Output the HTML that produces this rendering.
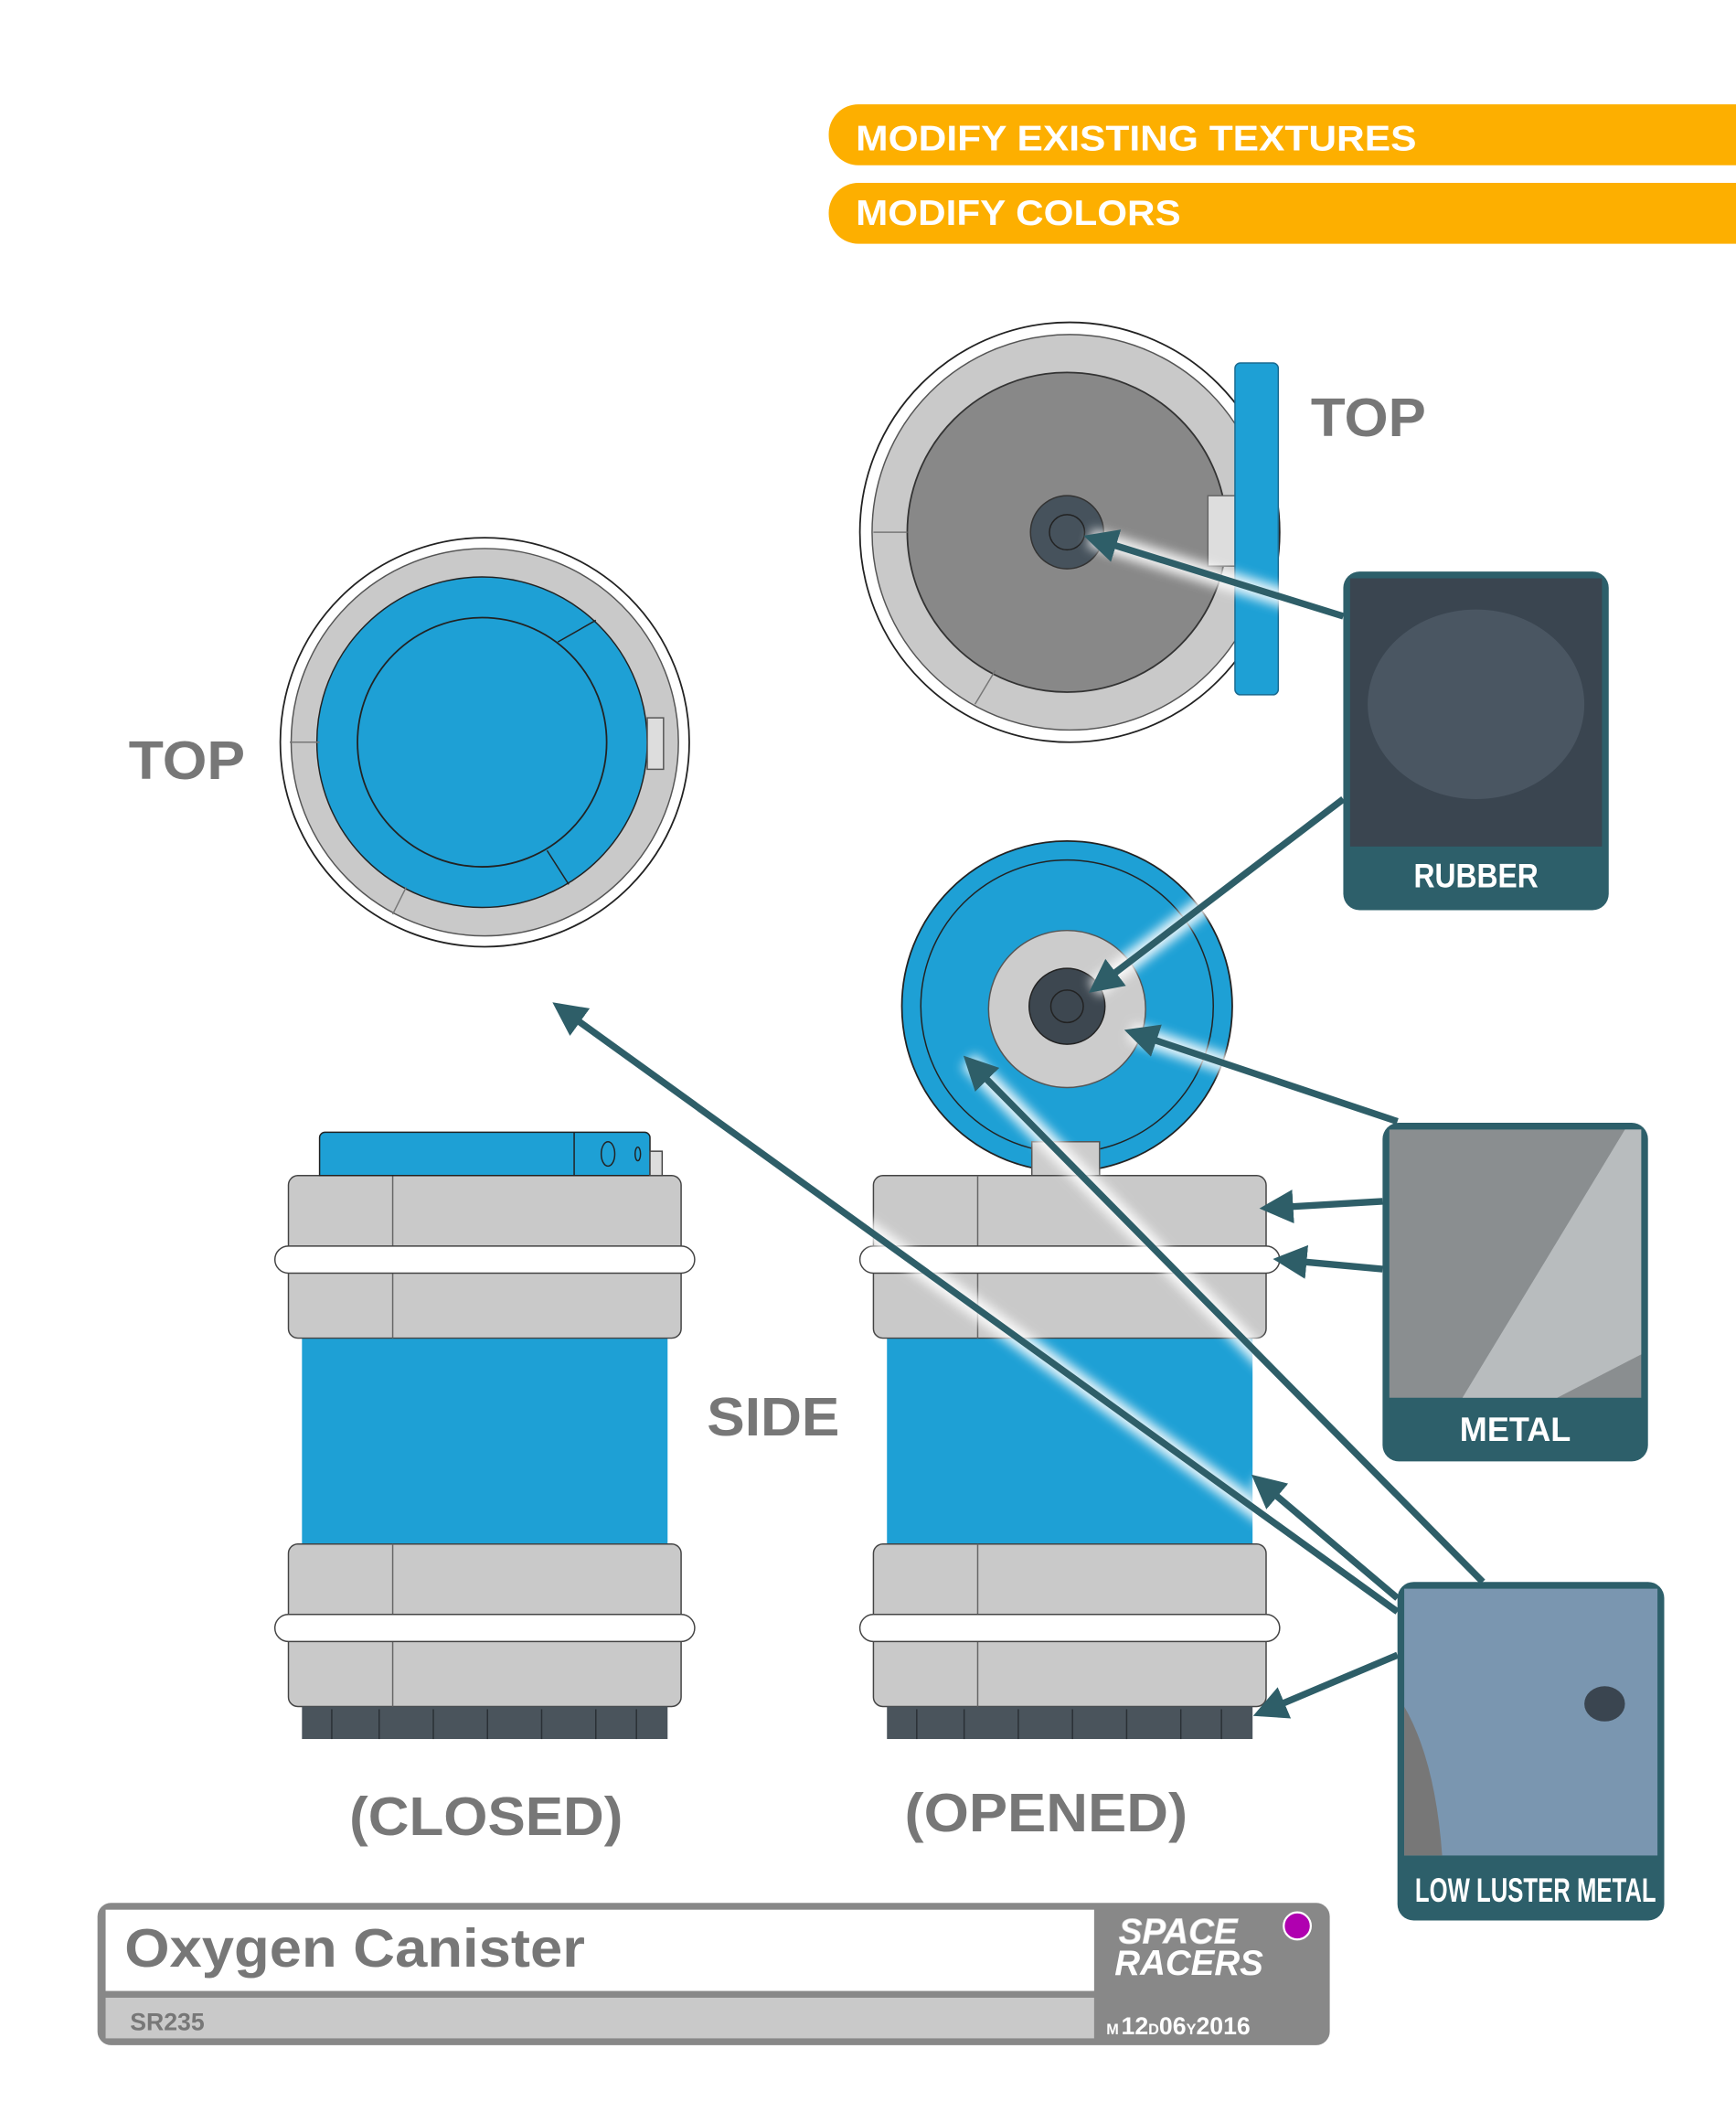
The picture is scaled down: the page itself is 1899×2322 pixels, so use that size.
<!DOCTYPE html>
<html><head><style>html,body{margin:0;padding:0;background:#fff}svg{display:block}</style></head>
<body>
<svg width="1899" height="2322" viewBox="0 0 1282 1567.5" preserveAspectRatio="none" xmlns="http://www.w3.org/2000/svg" font-family="Liberation Sans, sans-serif">
<defs>
<marker id="ah" viewBox="0 0 10 10" refX="8" refY="5" markerWidth="5" markerHeight="5" orient="auto"><path d="M0,0 L10,5 L0,10 z" fill="#2e5e68"/></marker>
<filter id="gl"><feGaussianBlur stdDeviation="4"/></filter>
</defs>
<rect x="612" y="77" width="700" height="45" rx="22" fill="#fdaf00"/>
<rect x="612" y="135" width="700" height="45" rx="22" fill="#fdaf00"/>
<text x="632" y="111" font-size="26" font-weight="bold" fill="#fff" textLength="414" lengthAdjust="spacingAndGlyphs">MODIFY EXISTING TEXTURES</text>
<text x="632" y="166" font-size="26" font-weight="bold" fill="#fff" textLength="240" lengthAdjust="spacingAndGlyphs">MODIFY COLORS</text>

<!-- top right view -->
<circle cx="790" cy="393" r="155" fill="#fff" stroke="#222" stroke-width="1.2"/>
<circle cx="790" cy="393" r="146" fill="#c9c9c9" stroke="#555" stroke-width="1"/>
<circle cx="788" cy="393" r="118" fill="#888" stroke="#333" stroke-width="1.2"/>
<line x1="645" y1="393" x2="670" y2="393" stroke="#777"/>
<line x1="720" y1="520" x2="735" y2="495" stroke="#777"/>
<rect x="892" y="366" width="22" height="52" fill="#ddd" stroke="#666"/>
<rect x="912" y="268" width="32" height="245" rx="4" fill="#1ea0d5" stroke="#1a6a90"/>
<circle cx="788" cy="393" r="27" fill="#46525c" stroke="#333"/>
<circle cx="788" cy="393" r="13" fill="none" stroke="#222"/>
<text x="968" y="322" font-size="40" font-weight="bold" fill="#777" textLength="85" lengthAdjust="spacingAndGlyphs">TOP</text>

<!-- top left view -->
<circle cx="358" cy="548" r="151" fill="#fff" stroke="#222" stroke-width="1.2"/>
<circle cx="358" cy="548" r="143" fill="#c9c9c9" stroke="#555"/>
<circle cx="356" cy="548" r="122" fill="#1ea0d5" stroke="#222"/>
<circle cx="356" cy="548" r="92" fill="#1ea0d5" stroke="#222" stroke-width="1.2"/>
<line x1="412" y1="474" x2="440" y2="458" stroke="#222"/>
<line x1="404" y1="628" x2="420" y2="653" stroke="#222"/>
<line x1="214" y1="548" x2="236" y2="548" stroke="#777"/>
<line x1="290" y1="675" x2="300" y2="655" stroke="#777"/>
<rect x="478" y="530" width="12" height="38" fill="#ddd" stroke="#555"/>
<text x="95" y="575" font-size="40" font-weight="bold" fill="#777" textLength="86" lengthAdjust="spacingAndGlyphs">TOP</text>

<!-- middle opened lid -->
<circle cx="788" cy="743" r="122" fill="#1ea0d5" stroke="#222" stroke-width="1.2"/>
<circle cx="788" cy="743" r="108" fill="none" stroke="#222"/>
<rect x="762" y="843" width="50" height="27" fill="#ccc" stroke="#555"/>
<circle cx="788" cy="745" r="58" fill="#ccc" stroke="#555"/>
<circle cx="788" cy="743" r="28" fill="#3d4750" stroke="#222"/>
<circle cx="788" cy="743" r="12" fill="none" stroke="#222"/>

<!-- canisters -->
<g id="can">
<rect x="223" y="985" width="270" height="158" fill="#1ea0d5"/>
<rect x="213" y="868" width="290" height="120" rx="7" fill="#c9c9c9" stroke="#444"/>
<line x1="290" y1="868" x2="290" y2="988" stroke="#666"/>
<rect x="203" y="920" width="310" height="20" rx="10" fill="#fff" stroke="#444"/>
<rect x="213" y="1140" width="290" height="120" rx="7" fill="#c9c9c9" stroke="#444"/>
<line x1="290" y1="1140" x2="290" y2="1260" stroke="#666"/>
<rect x="203" y="1192" width="310" height="20" rx="10" fill="#fff" stroke="#444"/>
<rect x="223" y="1260" width="270" height="24" fill="#4a545c"/>
<g stroke="#2a3035" stroke-width="1">
<line x1="245" y1="1262" x2="245" y2="1284"/><line x1="280" y1="1262" x2="280" y2="1284"/><line x1="320" y1="1262" x2="320" y2="1284"/><line x1="360" y1="1262" x2="360" y2="1284"/><line x1="400" y1="1262" x2="400" y2="1284"/><line x1="440" y1="1262" x2="440" y2="1284"/><line x1="470" y1="1262" x2="470" y2="1284"/></g>
</g>
<use href="#can" x="432"/>
<path d="M236,868 V840 a4,4 0 0 1 4,-4 H476 a4,4 0 0 1 4,4 V868 Z" fill="#1ea0d5" stroke="#222"/>
<rect x="480" y="850" width="9" height="18" fill="#ddd" stroke="#444"/>
<line x1="424" y1="836" x2="424" y2="868" stroke="#222"/>
<ellipse cx="449" cy="852" rx="5" ry="9" fill="none" stroke="#222"/>
<ellipse cx="471" cy="852" rx="2" ry="5" fill="none" stroke="#222"/>

<text x="522" y="1060" font-size="40" font-weight="bold" fill="#777" textLength="98" lengthAdjust="spacingAndGlyphs">SIDE</text>
<text x="258" y="1355" font-size="40" font-weight="bold" fill="#777" textLength="202" lengthAdjust="spacingAndGlyphs">(CLOSED)</text>
<text x="668" y="1352" font-size="40" font-weight="bold" fill="#777" textLength="209" lengthAdjust="spacingAndGlyphs">(OPENED)</text>

<!-- arrows -->
<g stroke="#fff" stroke-width="14" filter="url(#gl)" opacity="0.9">
<line x1="992" y1="455" x2="805" y2="397"/><line x1="992" y1="590" x2="808" y2="730"/>
<line x1="1032" y1="828" x2="835" y2="762"/><line x1="1032" y1="1190" x2="412" y2="743"/>
<line x1="1095" y1="1168" x2="715" y2="783"/><line x1="1032" y1="1180" x2="928" y2="1092"/>
</g>
<g stroke="#2e5e68" stroke-width="5" marker-end="url(#ah)" fill="none">
<line x1="992" y1="455" x2="805" y2="397"/><line x1="992" y1="590" x2="808" y2="730"/>
<line x1="1032" y1="828" x2="835" y2="762"/>
<line x1="1021" y1="887" x2="935" y2="892"/><line x1="1021" y1="937" x2="945" y2="930"/>
<line x1="1032" y1="1190" x2="412" y2="743"/><line x1="1095" y1="1168" x2="715" y2="783"/>
<line x1="1032" y1="1180" x2="928" y2="1092"/><line x1="1032" y1="1222" x2="930" y2="1265"/>
</g>

<!-- photo cards -->
<rect x="992" y="422" width="196" height="250" rx="12" fill="#2d5f6a"/>
<rect x="997" y="427" width="186" height="198" fill="#3a4550"/>
<ellipse cx="1090" cy="520" rx="80" ry="70" fill="#4a5662"/>
<text x="1090" y="655" text-anchor="middle" font-size="25" font-weight="bold" fill="#fff" textLength="92" lengthAdjust="spacingAndGlyphs">RUBBER</text>

<rect x="1021" y="829" width="196" height="250" rx="12" fill="#2d5f6a"/>
<rect x="1026" y="834" width="186" height="198" fill="#8a8e90"/>
<path d="M1080,1032 L1200,834 L1212,834 L1212,1000 L1150,1032 Z" fill="#b8bcbe"/>
<text x="1119" y="1064" text-anchor="middle" font-size="25" font-weight="bold" fill="#fff" textLength="82" lengthAdjust="spacingAndGlyphs">METAL</text>

<rect x="1032" y="1168" width="197" height="250" rx="12" fill="#2d5f6a"/>
<rect x="1037" y="1173" width="187" height="197" fill="#7a96b0"/>
<ellipse cx="1185" cy="1258" rx="15" ry="13" fill="#3a4550"/>
<path d="M1037,1260 Q1060,1300 1065,1370 L1037,1370 Z" fill="#777"/>
<text x="1134" y="1404" text-anchor="middle" font-size="25" font-weight="bold" fill="#fff" textLength="178" lengthAdjust="spacingAndGlyphs">LOW LUSTER METAL</text>

<!-- title block -->
<rect x="72" y="1405" width="910" height="105" rx="10" fill="#888"/>
<rect x="78" y="1410" width="730" height="60" fill="#fff"/>
<rect x="78" y="1475" width="730" height="30" fill="#c9c9c9"/>
<text x="92" y="1452" font-size="40" font-weight="bold" fill="#777" textLength="340" lengthAdjust="spacingAndGlyphs">Oxygen Canister</text>
<text x="96" y="1499" font-size="18" font-weight="bold" fill="#777">SR235</text>
<text x="870" y="1435" text-anchor="middle" font-size="26" font-weight="bold" font-style="italic" fill="#fff" stroke="#ddd" stroke-width="0.5">SPACE</text>
<text x="878" y="1458" text-anchor="middle" font-size="26" font-weight="bold" font-style="italic" fill="#fff">RACERS</text>
<circle cx="958" cy="1422" r="10" fill="#b000b0" stroke="#fff" stroke-width="1.5"/>
<text x="817" y="1502" font-size="11" font-weight="bold" fill="#fff">M</text>
<text x="828" y="1502" font-size="18" font-weight="bold" fill="#fff">12<tspan font-size="11">D</tspan>06<tspan font-size="11">Y</tspan>2016</text>
</svg>
</body></html>
